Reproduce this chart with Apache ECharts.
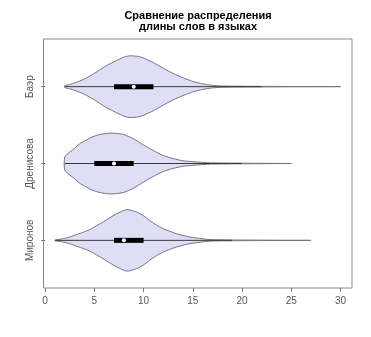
<!DOCTYPE html>
<html>
<head>
<meta charset="utf-8">
<script src="https://cdn.jsdelivr.net/npm/echarts@6/dist/echarts.min.js"></script>
<style>
  html, body { margin: 0; padding: 0; background: #fff; }
  #chart { width: 371px; height: 337px; }
</style>
</head>
<body>
<div id="chart"></div>
<script>
// Languages, bottom to top
const categories = ['Миронов', 'Дренисова', 'Баэр'];

// Density outlines: word length and relative half-width (1 = widest)
const mironovX = [1, 1.85, 2.5, 3.2, 4, 4.6, 5.2, 5.9, 6.5, 7.3, 8.3, 9.3, 10, 10.6, 11.3, 12, 13.3, 14.5, 15.4, 16.7, 19, 22, 27];
const mironovWidth = [0.01, 0.055, 0.11, 0.19, 0.28, 0.36, 0.47, 0.6, 0.72, 0.87, 1, 0.92, 0.8, 0.65, 0.5, 0.38, 0.22, 0.12, 0.075, 0.026, 0.013, 0.007, 0];

const drenisovaX = [2, 2.5, 3, 3.5, 4, 4.5, 5, 5.5, 6, 6.75, 7.5, 8, 9, 10, 11, 12, 13, 14, 15, 16, 17, 20, 25];
const drenisovaWidth = [0.21, 0.37, 0.5, 0.64, 0.73, 0.82, 0.89, 0.94, 0.97, 0.99, 0.97, 0.94, 0.8, 0.6, 0.42, 0.26, 0.16, 0.09, 0.06, 0.035, 0.02, 0.01, 0];

const baerX = [2, 2.5, 3, 4, 5, 6, 7, 8, 8.5, 9, 9.5, 10, 11, 12, 13, 14, 15, 16, 17, 18, 20, 22, 25, 30];
const baerWidth = [0.03, 0.07, 0.12, 0.25, 0.43, 0.64, 0.81, 0.96, 1, 1, 0.98, 0.93, 0.78, 0.6, 0.43, 0.29, 0.17, 0.09, 0.04, 0.02, 0.013, 0.01, 0.005, 0];

// Box summaries, same order as categories
const whiskerLow = [1, 2, 2];
const boxLow = [7, 5, 7];
const medians = [8, 7, 9];
const boxHigh = [10, 9, 11];
const whiskerHigh = [19, 20, 22];

// Axis ticks
const xTicks = [0, 5, 10, 15, 20, 25, 30];
const yTicks = [1, 2, 3];

const outlines = [
  { x: mironovX, w: mironovWidth },
  { x: drenisovaX, w: drenisovaWidth },
  { x: baerX, w: baerWidth }
];
const halfWidthScale = 0.4;

function renderViolin(params, api) {
  const i = api.value(0);
  const pos = i + 1;
  const o = outlines[i];
  const top = [], bottom = [];
  for (let k = 0; k < o.x.length; k++) {
    const h = o.w[k] * halfWidthScale;
    top.push(api.coord([o.x[k], pos + h]));
    bottom.push(api.coord([o.x[k], pos - h]));
  }
  const points = top.concat(bottom.reverse());
  const wl = api.coord([whiskerLow[i], pos]);
  const wh = api.coord([whiskerHigh[i], pos]);
  const bl = api.coord([boxLow[i], pos]);
  const bh = api.coord([boxHigh[i], pos]);
  const md = api.coord([medians[i], pos]);
  return {
    type: 'group',
    children: [
      {
        type: 'polygon',
        shape: { points: points, smooth: 0.25 },
        style: { fill: '#dedef6', stroke: '#74747e', lineWidth: 1 }
      },
      {
        type: 'line',
        shape: { x1: wl[0], y1: wl[1], x2: wh[0], y2: wh[1] },
        style: { stroke: '#3a3a3a', lineWidth: 1 }
      },
      {
        type: 'rect',
        shape: { x: bl[0], y: bl[1] - 2.5, width: bh[0] - bl[0], height: 5 },
        style: { fill: '#000' }
      },
      {
        type: 'circle',
        shape: { cx: md[0], cy: md[1], r: 2 },
        style: { fill: '#fff' }
      }
    ]
  };
}

const chart = echarts.init(document.getElementById('chart'), null, { renderer: 'canvas' });
chart.setOption({
  animation: false,
  title: {
    text: 'Сравнение распределения\nдлины слов в языках',
    left: 198,
    top: 10,
    padding: 0,
    textAlign: 'center',
    textStyle: {
      fontFamily: 'Liberation Sans, Arial, sans-serif',
      fontSize: 11,
      fontWeight: 'bold',
      color: '#000',
      lineHeight: 11
    }
  },
  grid: {
    left: 43.5,
    right: 19,
    top: 39,
    bottom: 49,
    show: true,
    borderColor: '#8a8a8a',
    borderWidth: 1,
    backgroundColor: 'transparent'
  },
  xAxis: {
    type: 'value',
    min: -0.16,
    max: 31.16,
    splitLine: { show: false },
    axisLine: { show: false },
    axisTick: {
      show: true,
      customValues: xTicks,
      length: 4,
      lineStyle: { color: '#777' }
    },
    axisLabel: {
      customValues: xTicks,
      margin: 8,
      color: '#555',
      fontSize: 10,
      fontFamily: 'Liberation Sans, Arial, sans-serif'
    }
  },
  yAxis: {
    type: 'value',
    min: 0.38,
    max: 3.62,
    splitLine: { show: false },
    axisLine: { show: false },
    axisTick: {
      show: true,
      customValues: yTicks,
      length: 4,
      lineStyle: { color: '#777' }
    },
    axisLabel: {
      customValues: yTicks,
      rotate: 90,
      margin: 8,
      color: '#555',
      fontSize: 10,
      fontFamily: 'Liberation Sans, Arial, sans-serif',
      formatter: function (v) { return categories[Math.round(v) - 1]; }
    }
  },
  series: [{
    type: 'custom',
    renderItem: renderViolin,
    data: [[0], [1], [2]],
    encode: { x: -1, y: -1 },
    silent: true
  }]
});
</script>
</body>
</html>
